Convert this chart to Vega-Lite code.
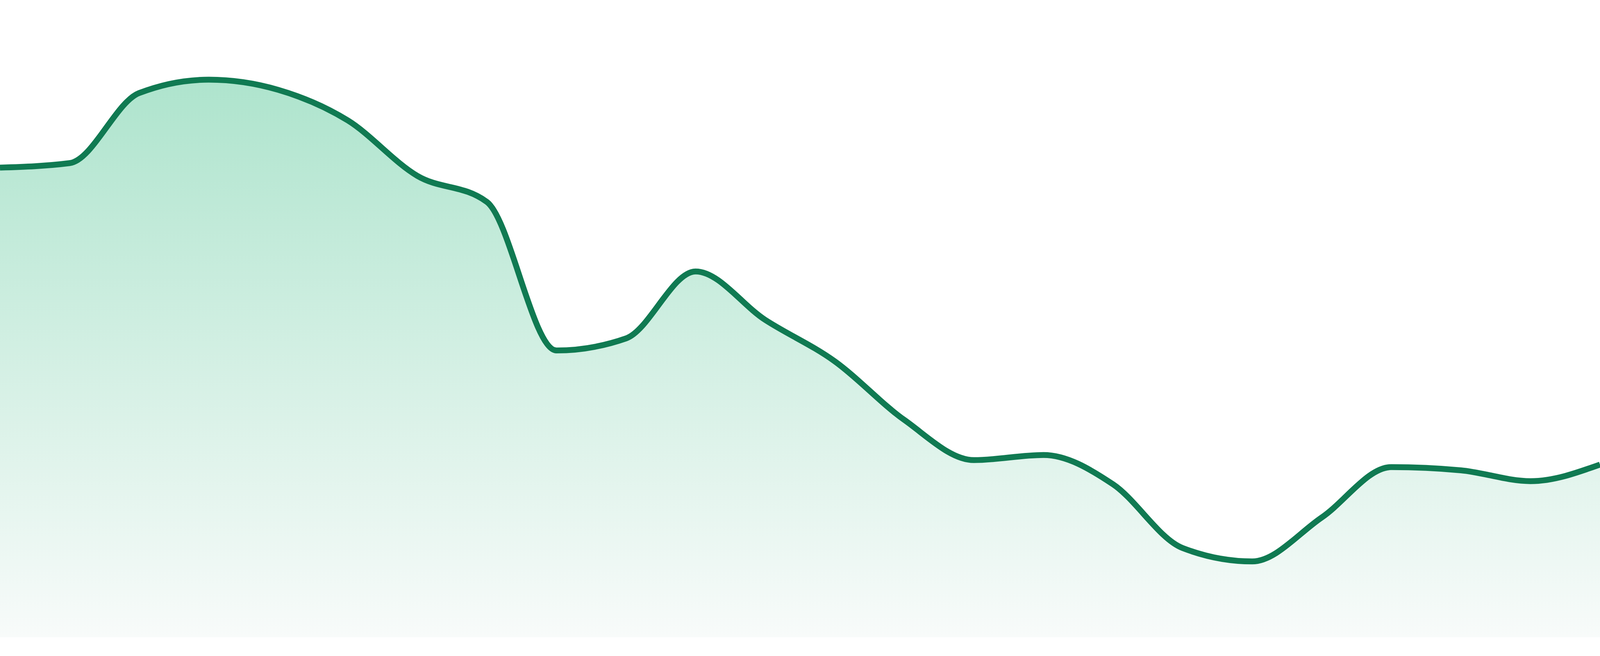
{
  "$schema": "https://vega.github.io/schema/vega-lite/v6.json",
  "width": "container",
  "height": 1632,
  "autosize": {"type": "fit-x", "contains": "padding"},
  "padding": {"left": 0, "top": 0, "right": 0, "bottom": 48},
  "background": "#ffffff",
  "config": {"view": {"stroke": null}},
  "data": {
    "values": [
      {"i": 0, "v": 73.7}, {"i": 1, "v": 74.4}, {"i": 2, "v": 85.4}, {"i": 3, "v": 87.5},
      {"i": 4, "v": 85.9}, {"i": 5, "v": 81.1}, {"i": 6, "v": 72.4}, {"i": 7, "v": 68.3},
      {"i": 8, "v": 45.0}, {"i": 9, "v": 46.9}, {"i": 10, "v": 57.4}, {"i": 11, "v": 49.8},
      {"i": 12, "v": 43.3}, {"i": 13, "v": 34.1}, {"i": 14, "v": 27.8}, {"i": 15, "v": 28.6},
      {"i": 16, "v": 24.0}, {"i": 17, "v": 14.0}, {"i": 18, "v": 11.9}, {"i": 19, "v": 18.8},
      {"i": 20, "v": 26.7}, {"i": 21, "v": 26.2}, {"i": 22, "v": 24.5}, {"i": 23, "v": 27.1}
    ]
  },
  "encoding": {
    "x": {"field": "i", "type": "quantitative", "scale": {"domain": [0, 23], "nice": false, "zero": false}, "axis": null},
    "y": {"field": "v", "type": "quantitative", "scale": {"domain": [0, 100], "nice": false}, "axis": null}
  },
  "layer": [
    {
      "mark": {
        "type": "area",
        "interpolate": "monotone",
        "clip": true,
        "fill": {
          "gradient": "linear",
          "x1": 0, "y1": 0, "x2": 0, "y2": 1,
          "stops": [
            {"offset": 0, "color": "#aee4cd"},
            {"offset": 1, "color": "#f8fbfa"}
          ]
        }
      }
    },
    {
      "mark": {"type": "line", "interpolate": "monotone", "clip": true, "color": "#107a52", "strokeWidth": 15}
    }
  ]
}
